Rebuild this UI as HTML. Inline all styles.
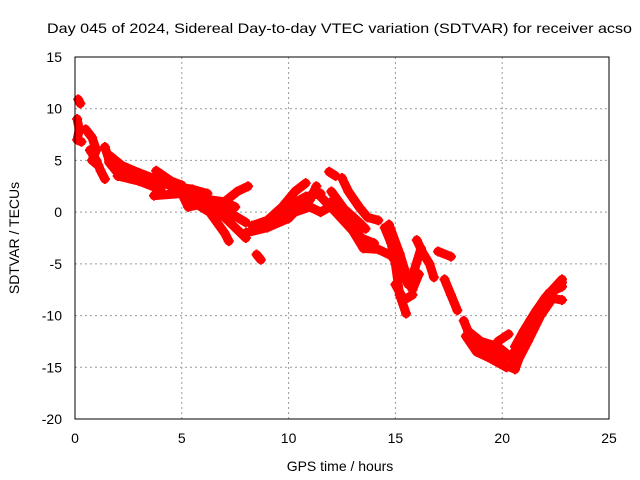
<!DOCTYPE html>
<html><head><meta charset="utf-8"><style>
body{margin:0;background:#fff;}
svg{display:block;font-family:"Liberation Sans",Arial,sans-serif;}
</style></head><body>
<svg id="chart" width="640" height="480" viewBox="0 0 640 480">
<text x="47" y="33" font-size="14" textLength="585" lengthAdjust="spacingAndGlyphs" fill="#000">Day 045 of 2024, Sidereal Day-to-day VTEC variation (SDTVAR) for receiver acso</text>
<g id="grid"></g>
<g id="ticks"></g>
<g id="series"></g>
<rect x="75" y="57" width="534" height="362" fill="none" stroke="#000" stroke-width="1"/>
<text x="340" y="471" font-size="14" text-anchor="middle">GPS time / hours</text>
<text x="19" y="238" font-size="14" text-anchor="middle" transform="rotate(-90 19 238)">SDTVAR / TECUs</text>
</svg>
<script>
const xTicks=[0,5,10,15,20,25];
const yTicks=[15,10,5,0,-5,-10,-15,-20];
const trackEarly=[[0.15,10.9],[0.25,10.5]];
const trackEarly2=[[0.1,9],[0.2,8],[0.1,7],[0.3,6.8]];
const trackB=[[0.5,8],[0.8,7.2],[1,6],[0.8,5],[1.1,4.5]];
const trackB2=[[0.7,6],[1,5],[1.2,4],[1.4,3.2]];
const trackMain=[[1.4,6.3],[1.6,5],[2,4],[3,3.6],[4,2.9],[4.8,2.5],[5.5,1.6],[6.3,1.2],[7,1],[7.5,0.5]];
const trackMain2=[[1.6,5.5],[2.2,4.5],[3,3.8],[4,3],[5,2],[6,1.5],[7,0.4]];
const trackMain3=[[2,3.5],[3,3],[4,2.2],[3.7,1.6],[5,1.8],[5.3,0.5],[6,0.8]];
const trackMain4=[[1.6,4.8],[2,3.8],[2.5,3.3],[3.5,3.2],[4.5,2.6],[5.5,2.2],[6.2,1.8]];
const trackMain5=[[3.8,4],[4.5,3],[5,2.6]];
const trackBr1=[[5.5,1],[6.3,0],[7,-2],[7.2,-2.8]];
const trackBr2=[[6,1],[7,-0.5],[8,-2.5]];
const trackBr3=[[6.5,0.7],[7.2,0],[8,-1]];
const trackBr4=[[7,1],[7.6,2],[8.1,2.5]];
const trackMid=[[8,-2],[9,-1.5],[10,-0.6],[10.5,0.5],[11,1.2],[11.3,2.5]];
const trackMid2=[[8.3,-1.3],[9,-0.8],[9.7,0.5],[10.3,2],[10.8,2.8]];
const trackMid3=[[10,-0.2],[11,0.5],[11.5,0],[12,0.6]];
const trackMid4=[[9.5,-0.5],[10.2,0.8],[10.8,1.5],[11.5,1.8]];
const trackSmall=[[8.5,-4.1],[8.7,-4.6]];
const trackC=[[11.5,1.5],[12.2,0],[13,-1.8],[13.5,-3.5],[14.2,-3.6],[14.8,-4.2],[15.3,-5.5],[15.6,-7]];
const trackC2=[[11.9,3.9],[12.2,3.5]];
const trackC3=[[12.5,3.3],[12.8,2],[13.3,0.5],[13.7,-0.5],[14.2,-0.8]];
const trackC4=[[12,2],[12.6,0.3],[13.2,-0.8],[13.6,-1.6]];
const trackC5=[[12,1],[12.8,-0.5],[13.4,-2.5],[14,-3]];
const trackD=[[14.5,-1.5],[14.8,-3],[15,-5],[15.2,-8],[15.5,-9.8]];
const trackD2=[[14.7,-1.2],[15.2,-4],[15.5,-6],[15.8,-7.5],[16.1,-6]];
const trackD3=[[15,-7],[15.4,-8.5],[15.8,-8]];
const trackE=[[16,-2.7],[16.3,-4],[16.6,-5],[16.8,-6.3]];
const trackE2=[[16.2,-3.5],[15.9,-5.5],[15.8,-6.5]];
const trackF=[[17,-3.8],[17.6,-4.3]];
const trackG=[[17.3,-6.5],[17.6,-8],[17.9,-9.5]];
const trackH=[[18.2,-10.5],[18.5,-12],[19,-13],[19.7,-13.8],[20.2,-14.8],[20.6,-15.2],[20.9,-13.5],[21.5,-11],[22,-9],[22.4,-7.5],[22.8,-6.8]];
const trackH2=[[18.4,-11.5],[19,-12.5],[19.8,-13],[20.4,-14],[20.8,-12.8],[21.3,-10.5],[22,-8.3],[22.8,-6.5]];
const trackH3=[[19.5,-13.5],[19.8,-12.5],[20.3,-11.8]];
const trackH4=[[22.3,-8.3],[22.8,-8.5]];
const trackH5=[[18.3,-12],[18.8,-13.5],[19.5,-14.2],[20.2,-15],[20.7,-14.5],[21.2,-12.5],[21.8,-10],[22.4,-8.2]];
const trackH6=[[20.6,-13],[21,-11.5],[21.6,-9.5],[22.2,-7.8],[22.8,-7.2]];
const tracks=[trackEarly,trackEarly2,trackB,trackB2,trackMain,trackMain2,trackMain3,trackMain4,trackMain5,trackBr1,trackBr2,trackBr3,trackBr4,trackMid,trackMid2,trackMid3,trackMid4,trackSmall,trackC,trackC2,trackC3,trackC4,trackC5,trackD,trackD2,trackD3,trackE,trackE2,trackF,trackG,trackH,trackH2,trackH3,trackH4,trackH5,trackH6];

const X=t=>75+t*(534/25);
const Y=v=>57+(15-v)*(362/35);
const NS="http://www.w3.org/2000/svg";
const grid=document.getElementById('grid'),ticks=document.getElementById('ticks'),series=document.getElementById('series');
function mk(tag,attrs,parent){const e=document.createElementNS(NS,tag);for(const k in attrs)e.setAttribute(k,attrs[k]);parent.appendChild(e);return e;}
xTicks.forEach(t=>{
  if(t>0&&t<25){const g=mk('line',{x1:X(t),x2:X(t),y1:57,y2:419,stroke:'#999','stroke-dasharray':'2,3'},grid);
  
  }
  const l=mk('text',{x:X(t),y:443,'font-size':14,'text-anchor':'middle'},ticks);l.textContent=t;
  
  
});
yTicks.forEach(v=>{
  if(v<15&&v>-20){const g=mk('line',{x1:75,x2:609,y1:Y(v),y2:Y(v),stroke:'#999','stroke-dasharray':'2,3'},grid);
  
  }
  const l=mk('text',{x:62,y:Y(v)+5,'font-size':14,'text-anchor':'end'},ticks);l.textContent=v;
  
  
});
tracks.forEach(tr=>{
  const p=mk('polyline',{points:tr.map(d=>X(d[0])+','+Y(d[1])).join(' '),fill:'none',stroke:'#f00','stroke-width':9,'stroke-linejoin':'round','stroke-linecap':'round'},series);
  
  
  tr.forEach(d=>{
    const m=mk('path',{d:`M${X(d[0])-5},${Y(d[1])}h10M${X(d[0])},${Y(d[1])-5}v10`,stroke:'#f00','stroke-width':2},series);
    
    
  });
});
</script>
</body></html>
